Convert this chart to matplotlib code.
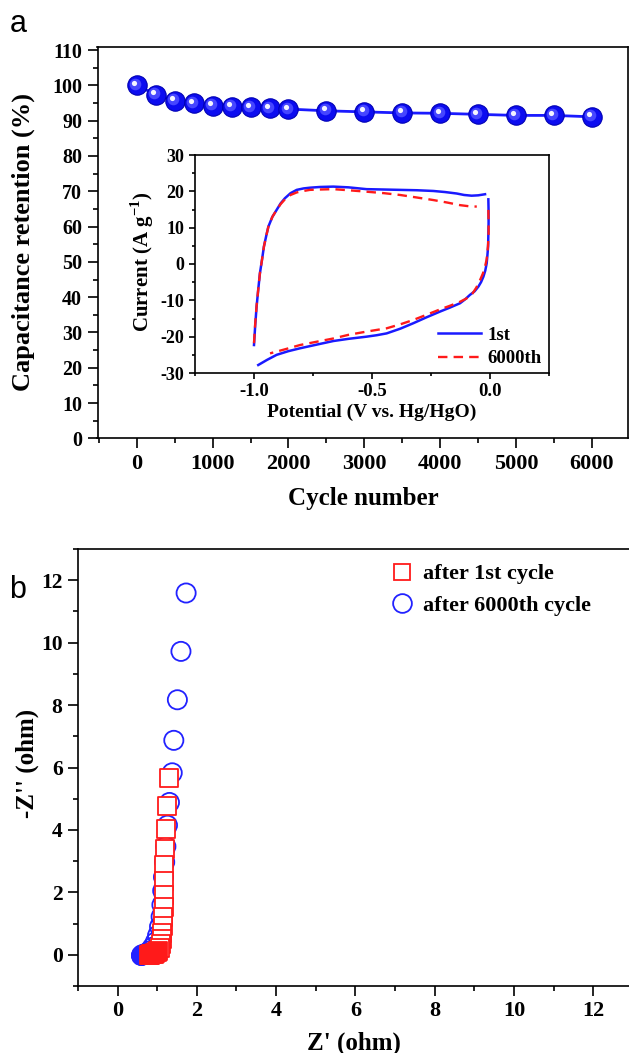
import matplotlib
matplotlib.use('Agg')
import matplotlib.pyplot as plt
from matplotlib.ticker import MultipleLocator
from matplotlib.transforms import offset_copy
from matplotlib.lines import Line2D

plt.rcParams['font.family'] = ['Liberation Serif', 'DejaVu Serif']
plt.rcParams['font.weight'] = 'bold'
plt.rcParams['axes.unicode_minus'] = False
plt.rcParams['mathtext.fontset'] = 'custom'
plt.rcParams['mathtext.rm'] = 'Liberation Serif:bold'
plt.rcParams['mathtext.bf'] = 'Liberation Serif:bold'

# (a) cycling stability
cycles = [0, 250, 500, 750, 1000, 1250, 1500, 1750, 2000, 2500, 3000, 3500, 4000, 4500, 5000, 5500, 6000]
retention = [100, 97.4, 95.7, 95.0, 94.3, 94.0, 93.8, 93.5, 93.3, 92.8, 92.5, 92.2, 92.1, 91.8, 91.5, 91.5, 91.1]

# inset CV curves, 1st cycle (anodic / cathodic branch)
cv1_up_v = [-1.000, -0.995, -0.989, -0.982, -0.975, -0.966, -0.958, -0.948, -0.939, -0.922, -0.904, -0.887,
            -0.869, -0.845, -0.819, -0.790, -0.763, -0.720, -0.664, -0.600, -0.523, -0.450, -0.381, -0.310,
            -0.240, -0.190, -0.141, -0.110, -0.078, -0.050, -0.021]
cv1_up_i = [-22.3, -17.0, -11.7, -7.0, -2.6, 1.2, 4.8, 7.8, 10.3, 13.0, 14.9, 16.7,
            18.1, 19.5, 20.4, 20.8, 21.0, 21.2, 21.3, 21.1, 20.6, 20.5, 20.4, 20.3,
            20.1, 19.8, 19.4, 19.0, 18.8, 18.9, 19.2]
cv1_dn_v = [-0.007, -0.006, -0.006, -0.007, -0.008, -0.011, -0.014, -0.020, -0.028, -0.038, -0.049, -0.065,
            -0.085, -0.105, -0.127, -0.170, -0.212, -0.270, -0.325, -0.380, -0.438, -0.480, -0.523, -0.600,
            -0.664, -0.735, -0.805, -0.855, -0.904, -0.945, -0.982]
cv1_dn_i = [17.8, 14.5, 11.2, 8.0, 4.8, 2.4, 0.2, -1.8, -3.5, -5.0, -6.2, -7.5,
            -8.5, -9.7, -10.8, -12.0, -13.1, -14.7, -16.3, -17.8, -19.1, -19.6, -20.0, -20.6,
            -21.2, -22.2, -23.2, -24.0, -25.0, -26.4, -27.8]

# inset CV curves, 6000th cycle
cv6_up_v = [-1.000, -0.995, -0.989, -0.982, -0.975, -0.966, -0.958, -0.948, -0.939, -0.922, -0.904, -0.887,
            -0.869, -0.845, -0.819, -0.790, -0.763, -0.720, -0.664, -0.600, -0.523, -0.450, -0.381, -0.310,
            -0.240, -0.180, -0.127, -0.090, -0.056]
cv6_up_i = [-21.8, -16.5, -11.5, -7.0, -2.6, 1.2, 4.8, 7.8, 10.3, 13.0, 14.9, 16.5,
            17.8, 19.0, 19.7, 20.1, 20.4, 20.5, 20.6, 20.3, 19.9, 19.5, 19.0, 18.3,
            17.6, 16.9, 16.2, 15.9, 15.8]
cv6_dn_v = [-0.007, -0.006, -0.006, -0.008, -0.011, -0.015, -0.021, -0.030, -0.042, -0.058, -0.078, -0.100,
            -0.127, -0.170, -0.212, -0.270, -0.325, -0.380, -0.438, -0.523, -0.600, -0.664, -0.735, -0.805,
            -0.870, -0.932]
cv6_dn_i = [14.9, 11.5, 8.4, 5.5, 3.0, 1.0, -0.7, -2.6, -4.4, -6.5, -8.5, -9.5,
            -10.4, -11.5, -12.5, -14.0, -15.4, -16.6, -17.7, -18.6, -19.5, -20.5, -21.4, -22.3,
            -23.5, -24.6]

# (b) Nyquist plots
z1_re = [1.29, 1.24, 1.22, 1.19, 1.17, 1.16, 1.16, 1.16, 1.15, 1.14, 1.13, 1.11, 1.09, 1.06]
z1_im = [5.65, 4.78, 4.02, 3.40, 2.88, 2.37, 1.92, 1.52, 1.21, 0.92, 0.69, 0.50, 0.34, 0.22]
z1_hf_re = [1.03, 0.99, 0.95, 0.91, 0.87, 0.84, 0.81, 0.79]
z1_hf_im = [0.13, 0.08, 0.05, 0.03, 0.02, 0.01, 0.0, 0.0]

z6_re = [1.73, 1.60, 1.51, 1.42, 1.38, 1.31, 1.26, 1.22, 1.19, 1.16, 1.14, 1.12, 1.10, 1.06, 1.01, 0.95, 0.88, 0.80, 0.73]
z6_im = [11.59, 9.72, 8.17, 6.87, 5.83, 4.88, 4.15, 3.47, 2.97, 2.49, 2.05, 1.60, 1.22, 0.90, 0.62, 0.40, 0.24, 0.12, 0.05]
z6_hf_re = [0.68, 0.64, 0.61, 0.59, 0.58]
z6_hf_im = [0.03, 0.02, 0.01, 0.0, 0.0]

W, H = 629, 1053
fig = plt.figure(figsize=(W / 100, H / 100), dpi=100)


def px_axes(left, top, right, bottom):
    return fig.add_axes([left / W, 1 - bottom / H, (right - left) / W, (bottom - top) / H])


def style_ticks(ax, xsize, ysize, major=7, minor=3.5, width=1.2, pad=4):
    ax.tick_params(which='both', direction='out', top=False, right=False, width=width)
    ax.tick_params(which='major', length=major, pad=pad)
    ax.tick_params(which='minor', length=minor)
    ax.tick_params(axis='x', labelsize=xsize)
    ax.tick_params(axis='y', labelsize=ysize)
    for lab in ax.get_xticklabels() + ax.get_yticklabels():
        lab.set_fontweight('bold')
    for s in ax.spines.values():
        s.set_linewidth(1.2)


# ---------- panel a ----------
ax = px_axes(97.5, 47.3, 628, 438.3)
ax.plot(cycles, retention, color='#1a1aff', lw=2, zorder=2)
ax.scatter(cycles, retention, s=195, color='#0c0cf0', edgecolor='#0000b4', linewidth=0.8, zorder=3)
mid = offset_copy(ax.transData, fig=fig, x=-1.5, y=1.5, units='dots')
ax.scatter(cycles, retention, s=70, color='#4646ff', linewidth=0, zorder=4, transform=mid)
hi = offset_copy(ax.transData, fig=fig, x=-2.5, y=2.5, units='dots')
ax.scatter(cycles, retention, s=14, color='#f4f4ff', linewidth=0, zorder=5, transform=hi)
ax.set_xlim(-520, 6480)
ax.set_ylim(0, 110.8)
ax.set_xticks(range(0, 6001, 1000))
ax.set_yticks(range(0, 111, 10))
ax.xaxis.set_minor_locator(MultipleLocator(500))
ax.yaxis.set_minor_locator(MultipleLocator(5))
style_ticks(ax, 16, 14.5)
fig.text(23 / W, 1 - 242 / H, 'Capacitance retention (%)', rotation=90, ha='center', va='center',
         fontsize=19, fontweight='bold')
fig.text(363 / W, 1 - 498 / H, 'Cycle number', ha='center', va='center', fontsize=18, fontweight='bold')
fig.text(18 / W, 1 - 24 / H, 'a', family='Liberation Sans', fontweight='normal', fontsize=22,
         ha='center', va='center')

# inset
axi = px_axes(195, 155, 549, 373)
axi.plot(cv1_up_v, cv1_up_i, color='#1a1aff', lw=1.8, label='1st')
axi.plot(cv1_dn_v, cv1_dn_i, color='#1a1aff', lw=1.8)
axi.plot(cv6_up_v, cv6_up_i, color='#ff1a1a', lw=1.7, ls=(0, (4, 2.6)), label='6000th')
axi.plot(cv6_dn_v, cv6_dn_i, color='#ff1a1a', lw=1.7, ls=(0, (4, 2.6)))
axi.set_xlim(-1.25, 0.25)
axi.set_ylim(-30, 30)
axi.set_xticks([-1.0, -0.5, 0.0])
axi.set_xticklabels(['-1.0', '-0.5', '0.0'])
axi.set_yticks(range(-30, 31, 10))
axi.xaxis.set_minor_locator(MultipleLocator(0.25))
axi.yaxis.set_minor_locator(MultipleLocator(5))
style_ticks(axi, 13.5, 13, major=4.5, minor=2.5, pad=3)
axi.set_xlabel('Potential (V vs. Hg/HgO)', fontsize=14, fontweight='bold', labelpad=2)
fig.text(142 / W, 1 - 262 / H, 'Current (A g$^{-1}$)', rotation=90, ha='center', va='center',
         fontsize=15, fontweight='bold')
axi.legend(loc='lower right', bbox_to_anchor=(1.01, -0.025), frameon=False, fontsize=13.5,
           handlelength=2.3, handletextpad=0.3, borderaxespad=0.2, labelspacing=0.35)

# ---------- panel b ----------
axb = px_axes(77.85, 549, 633, 986)
axb.scatter(z6_re, z6_im, s=190, facecolor='none', edgecolor='#2222ff', linewidth=1.3, zorder=2)
axb.scatter(z6_hf_re, z6_hf_im, s=190, facecolor='#2222ff', edgecolor='#2222ff', linewidth=1.3, zorder=2)
axb.scatter(z1_re, z1_im, s=150, marker='s', facecolor='white', edgecolor='#ff1a1a', linewidth=1.3, zorder=3)
axb.scatter(z1_hf_re, z1_hf_im, s=150, marker='s', facecolor='#ff1a1a', edgecolor='#ff1a1a', linewidth=1.3, zorder=3)
axb.set_xlim(-1, 13)
axb.set_ylim(-1, 13)
axb.set_xticks(range(0, 13, 2))
axb.set_yticks(range(0, 13, 2))
axb.xaxis.set_minor_locator(MultipleLocator(1))
axb.yaxis.set_minor_locator(MultipleLocator(1))
style_ticks(axb, 16, 15.5)
fig.text(354 / W, 1 - 1043 / H, "Z' (ohm)", ha='center', va='center', fontsize=18, fontweight='bold')
fig.text(27 / W, 1 - 763 / H, "-Z'' (ohm)", rotation=90, ha='center', va='center',
         fontsize=18, fontweight='bold')
fig.text(18 / W, 1 - 590 / H, 'b', family='Liberation Sans', fontweight='normal', fontsize=22,
         ha='center', va='center')

handles = [Line2D([], [], ls='none', marker='s', markersize=12, markerfacecolor='white',
                  markeredgecolor='#ff1a1a', markeredgewidth=1.3),
           Line2D([], [], ls='none', marker='o', markersize=13.5, markerfacecolor='none',
                  markeredgecolor='#2222ff', markeredgewidth=1.3)]
axb.legend(handles, ['after 1st cycle', 'after 6000th cycle'], loc='upper left',
           bbox_to_anchor=((382 - 77.85) / 555.15, 1 - (555 - 549) / 437), frameon=False,
           fontsize=16, handlelength=1.0, handletextpad=0.45, labelspacing=0.5, borderaxespad=0)

fig.savefig('out.png', dpi=100)
